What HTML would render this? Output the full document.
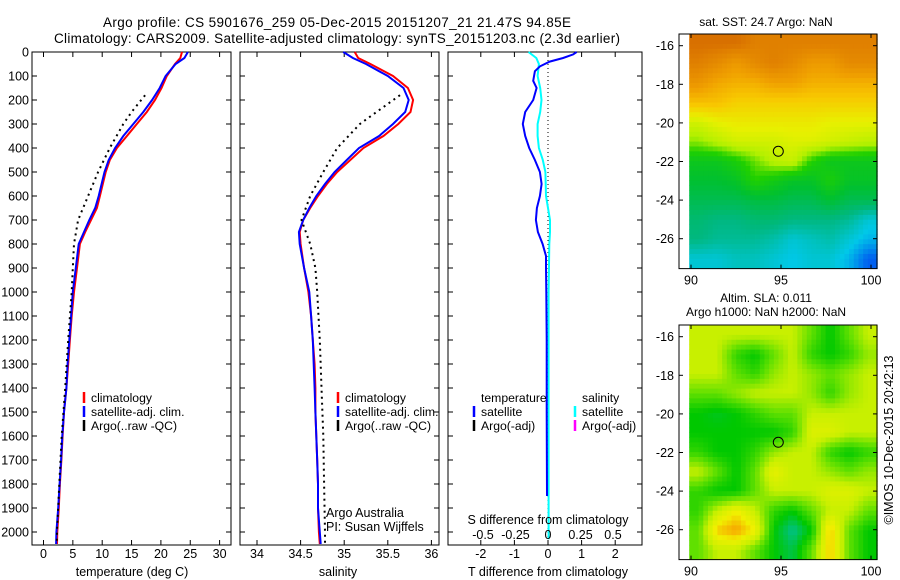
<!DOCTYPE html>
<html><head><meta charset="utf-8"><style>
html,body{margin:0;padding:0;background:#fff;}
svg{display:block;font-family:"Liberation Sans",sans-serif;}
</style></head><body>
<svg id="fig" width="900" height="580" viewBox="0 0 900 580" xmlns="http://www.w3.org/2000/svg">
<rect width="900" height="580" fill="#fff"/>
<text x="337" y="27" font-size="13.5" text-anchor="middle" textLength="468">Argo profile: CS 5901676_259 05-Dec-2015 20151207_21 21.47S 94.85E</text>
<text x="337" y="43" font-size="13.5" text-anchor="middle" textLength="566">Climatology: CARS2009. Satellite-adjusted climatology: synTS_20151203.nc (2.3d earlier)</text>
<g id="plots"></g>
</svg>
<script>
// ---------- data ----------
const tDepth = [0,25,50,100,150,200,250,300,350,400,450,500,550,600,650,700,750,800,900,1000,1100,1200,1300,1400,1500,1600,1700,1800,1900,2000,2050];
const tClim  = [23.6,23.3,22.4,21.0,20.1,19.0,17.6,15.9,14.2,12.5,11.3,10.6,10.1,9.6,9.1,8.1,7.1,6.2,5.7,5.2,4.8,4.5,4.2,3.9,3.5,3.25,3.05,2.8,2.6,2.35,2.3];
const tSat   = [24.6,24.0,22.5,20.8,19.8,18.5,17.0,15.3,13.6,12.2,11.1,10.4,9.9,9.4,8.8,7.8,6.9,6.0,5.5,5.0,4.7,4.4,4.1,3.9,3.5,3.2,3.0,2.75,2.5,2.2,2.15];
const argoDepth = [180,250,300,400,500,600,700,800,900,1000,1200,1400,1600,1800,2000,2050];
const tArgo  = [17.3,15.0,13.6,11.3,9.3,7.6,5.9,5.2,5.0,4.8,4.2,3.7,3.1,2.7,2.3,2.25];
const sClim  = [35.12,35.16,35.30,35.56,35.73,35.79,35.76,35.62,35.45,35.22,35.07,34.92,34.80,34.70,34.61,34.53,34.49,34.50,34.54,34.59,34.62,34.64,34.66,34.67,34.67,34.68,34.69,34.70,34.70,34.71,34.72];
const sSat   = [34.99,35.10,35.25,35.50,35.68,35.74,35.70,35.56,35.40,35.17,35.03,34.89,34.78,34.68,34.60,34.53,34.48,34.49,34.54,34.60,34.62,34.64,34.65,34.66,34.67,34.68,34.69,34.70,34.70,34.72,34.73];
const sArgo  = [35.64,35.37,35.18,34.92,34.76,34.61,34.51,34.61,34.67,34.69,34.72,34.74,34.76,34.77,34.78,34.78];
const dDepth = [0,10,25,40,60,80,120,150,200,250,300,350,400,450,500,550,600,650,700,750,800,850,900,1000,1200,1500,1850];
const dTSat  = [0.85,0.75,0.45,0.05,-0.24,-0.39,-0.44,-0.34,-0.44,-0.68,-0.75,-0.68,-0.56,-0.39,-0.24,-0.19,-0.24,-0.33,-0.36,-0.30,-0.16,-0.06,-0.06,-0.05,-0.04,-0.04,-0.03];
const sdDepth = [0,25,50,100,150,200,250,300,350,400,450,500,600,700,750,800,1000,1500,2030];
const dSSat  = [-0.15,-0.09,-0.07,-0.08,-0.06,-0.05,-0.06,-0.08,-0.08,-0.07,-0.04,-0.02,-0.015,0.015,0.015,0.01,0.005,0.005,0.005];
const depthTicks = [0,100,200,300,400,500,600,700,800,900,1000,1100,1200,1300,1400,1500,1600,1700,1800,1900,2000];
const tTicks = [0,5,10,15,20,25,30];
const sTicks = [34,34.5,35,35.5,36];
const sTickLabels = ["34","34.5","35","35.5","36"];
const dTTicks = [-2,-1,0,1,2];
const dSTicks = [-0.5,-0.25,0,0.25,0.5];
const dSTickLabels = ["-0.5","-0.25","0","0.25","0.5"];
// SST map grid (deg C), rows north->south, cols west->east
const sstGrid = [
[27.0,27.0,27.0,26.8,26.8,26.8,26.8,26.8,26.8,26.8],
[26.8,26.6,26.3,26.6,26.8,26.6,26.3,26.3,26.6,26.6],
[26.4,26.1,26.0,26.0,26.2,26.2,26.0,26.0,26.0,26.0],
[25.8,25.8,25.6,25.6,25.6,25.6,25.6,25.6,25.6,25.6],
[25.0,25.2,25.3,25.3,25.3,25.3,25.3,25.2,25.2,25.2],
[24.6,24.8,25.0,25.0,25.0,25.1,25.1,25.0,24.9,24.8],
[24.0,24.0,24.2,24.5,24.8,24.9,24.3,24.0,24.0,24.0],
[23.8,23.8,23.9,24.3,24.1,23.9,23.9,24.2,23.9,23.9],
[23.6,23.6,23.6,23.7,23.7,23.6,23.6,23.8,23.6,23.6],
[23.4,23.3,23.3,23.4,23.4,23.3,23.3,23.3,23.2,22.9],
[23.3,23.2,23.2,23.2,23.1,22.9,23.0,23.1,22.9,22.7],
[22.9,22.9,23.0,23.0,22.9,22.8,22.9,22.9,22.7,22.3]];
// SLA map grid (relative colour level)
const slaGrid = [
[3,3,3,3,3,3,2,1,2,3],
[3,3,1.5,1,2,3,1.5,1,1.5,2.5],
[3,3,2,1.5,2.5,3,2.5,2,2.5,3],
[2,2,2.5,3,3,3,2.5,1.5,2.5,3],
[1,0.8,1,1.5,2,2,3,3,3,3],
[1,1,1,1,1,1.5,3.5,3.5,3,3],
[1.5,1,1,1.5,2.5,3,3,1.5,1,1.5],
[3,2,1,2,3.8,3,3,2.5,2,2.5],
[1.5,1,1,2,3,3,3,3.5,3.5,3],
[1.5,3,4,3,1.5,1,2,3,3,2],
[2,4.5,5,4,1,0,1,4.5,2,1],
[2,3,3,2,1,0.5,2,4.5,2,1]];
const mapLonTicks = [90,95,100];
const mapLatTicks = [-16,-18,-20,-22,-24,-26];
const argoLon = 94.85, argoLat = -21.47;

// ---------- helpers ----------
const NS="http://www.w3.org/2000/svg";
const root=document.getElementById('plots');
function el(tag,attrs,parent){const e=document.createElementNS(NS,tag);for(const k in attrs)e.setAttribute(k,attrs[k]);(parent||root).appendChild(e);return e;}
function txt(x,y,s,size,anchor,parent){const t=el('text',{x:x,y:y,'font-size':size,'text-anchor':anchor||'start'},parent);t.textContent=s;return t;}
const TOP=52,BOT=545;
const depthY=d=>TOP+d*0.24;
const tX=v=>43.5+v*5.87;
const sX=v=>257+(v-34)*87.2;
const dTX=v=>548+v*33.6;
const dSX=v=>548+v*130;

function line(xs,ds,fx,color,dash,name){
  const pts=xs.map((v,i)=>fx(v).toFixed(1)+','+depthY(ds[i]).toFixed(1)).join(' ');
  const p=el('polyline',{points:pts,fill:'none',stroke:color,'stroke-width':2,'stroke-dasharray':dash||'none'});
  
  
}
function frame(x0,x1,name){
  const r=el('rect',{x:x0,y:TOP,width:x1-x0,height:BOT-TOP,fill:'none',stroke:'#000','stroke-width':1});
  
  
  depthTicks.forEach(d=>{const y=depthY(d);el('line',{x1:x0,x2:x0+5,y1:y,y2:y,stroke:'#000'});el('line',{x1:x1-5,x2:x1,y1:y,y2:y,stroke:'#000'});});
}
function xticks(ticks,labels,fx,y,name){
  const g=el('g',{});
  
  
  ticks.forEach((t,i)=>{const x=fx(t);el('line',{x1:x,x2:x,y1:TOP,y2:TOP+5,stroke:'#000'},g);el('line',{x1:x,x2:x,y1:BOT-5,y2:BOT,stroke:'#000'},g);if(y)txt(x,y,labels[i],12.5,'middle',g);});
}
function legend(x,y,items,name){
  const g=el('g',{});
  
  
  items.forEach((it,i)=>{const yy=y+i*14;if(it[0])el('line',{x1:x,x2:x,y1:yy-10,y2:yy+1,stroke:it[0],'stroke-width':2.5},g);txt(x+7,yy,it[1],12.2,'start',g);});
}

// y labels
const yl=el('g',{});


depthTicks.forEach(d=>txt(29,depthY(d)+4.5,String(d),12.5,'end',yl));

// panel 1 temperature
frame(32,231,'temperature-panel');
xticks(tTicks,tTicks.map(String),tX,558,'temperature-x-ticks');
line(tClim,tDepth,tX,'#ff0000',null,'temperature-climatology-line');
line(tSat,tDepth,tX,'#0000ff',null,'temperature-satellite-line');
line(tArgo,argoDepth,tX,'#000',"2,4",'temperature-argo-line');
const t1=txt(132,576,'temperature (deg C)',12.5,'middle');


legend(84,402,[['#ff0000','climatology'],['#0000ff','satellite-adj. clim.'],['#000','Argo(..raw -QC)']],'temperature-legend');

// panel 2 salinity
frame(240,439,'salinity-panel');
xticks(sTicks,sTickLabels,sX,558,'salinity-x-ticks');
line(sClim,tDepth,sX,'#ff0000',null,'salinity-climatology-line');
line(sSat,tDepth,sX,'#0000ff',null,'salinity-satellite-line');
line(sArgo,argoDepth,sX,'#000',"2,4",'salinity-argo-line');
const t2=txt(338,576,'salinity',12.5,'middle');


legend(338,402,[['#ff0000','climatology'],['#0000ff','satellite-adj. clim.'],['#000','Argo(..raw -QC)']],'salinity-legend');
const cr=el('g',{});


txt(326,517,'Argo Australia',12.5,'start',cr);txt(326,531,'PI: Susan Wijffels',12.5,'start',cr);

// panel 3 differences
frame(448,642,'difference-panel');
xticks(dTTicks,dTTicks.map(String),dTX,558,'t-difference-x-ticks');
const zl=el('line',{x1:548,x2:548,y1:TOP,y2:BOT,stroke:'#000','stroke-dasharray':'1,3'});


line(dSSat,sdDepth,dSX,'#00ffff',null,'salinity-difference-line');
line(dTSat,dDepth,dTX,'#0000ff',null,'temperature-difference-line');
const sl=el('g',{});


txt(548,524,'S difference from climatology',12.5,'middle',sl);
dSTicks.forEach((t,i)=>txt(dSX(t),539,dSTickLabels[i],12.5,'middle',sl));
const t3=txt(548,576,'T difference from climatology',12.5,'middle');


legend(474,402,[[null,'temperature'],['#0000ff','satellite'],['#000','Argo(-adj)']],'t-difference-legend');
legend(575,402,[[null,'salinity'],['#00ffff','satellite'],['#ff00ff','Argo(-adj)']],'s-difference-legend');

// ---------- maps ----------
function lerpCol(stops,v){
  if(v<=stops[0][0])return stops[0][1];
  for(let i=1;i<stops.length;i++){if(v<=stops[i][0]){const a=stops[i-1],b=stops[i],f=(v-a[0])/(b[0]-a[0]);return 'rgb('+[0,1,2].map(k=>Math.round(a[1][k]+(b[1][k]-a[1][k])*f)).join(',')+')';}}
  return 'rgb('+stops[stops.length-1][1].join(',')+')';
}
function fix(c){return Array.isArray(c)?'rgb('+c.join(',')+')':c;}
const sstStops=[[22.3,[0,96,240]],[22.8,[0,200,232]],[23.3,[0,184,128]],[23.8,[0,192,48]],[24.3,[32,208,0]],[24.7,[176,240,0]],[25.2,[232,240,0]],[25.7,[248,200,0]],[26.2,[240,160,0]],[26.8,[224,128,0]],[27.2,[208,96,0]]];
const slaStops=[[0,[0,192,144]],[1,[0,200,0]],[2,[96,224,0]],[3,[200,240,0]],[4,[240,240,0]],[5,[248,160,0]]];
function drawMap(grid,stops,top,name,title1,title2){
  const g=el('g',{});
  
  
  const lonX=l=>691+(l-90)*18, latY=la=>top+11.7+(-16-la)*19.3;
  const lon0=89.9,lon1=100.35,lat0=-15.4,lat1=-27.55;
  const R=grid.length,C=grid[0].length,sub=4;
  const dlon=(lon1-lon0)/C,dlat=(lat0-lat1)/R;
  const val=(r,c)=>grid[Math.max(0,Math.min(R-1,r))][Math.max(0,Math.min(C-1,c))];
  for(let i=0;i<R*sub;i++)for(let j=0;j<C*sub;j++){
    const fr=(i+0.5)/sub-0.5,fc=(j+0.5)/sub-0.5;
    const r0=Math.floor(fr),c0=Math.floor(fc),ar=fr-r0,ac=fc-c0;
    const v=(1-ar)*((1-ac)*val(r0,c0)+ac*val(r0,c0+1))+ar*((1-ac)*val(r0+1,c0)+ac*val(r0+1,c0+1));
    const x=lonX(lon0+j*dlon/sub),x2=lonX(lon0+(j+1)*dlon/sub),y=latY(lat0-i*dlat/sub),y2=latY(lat0-(i+1)*dlat/sub);
    el('rect',{x:x.toFixed(2),y:y.toFixed(2),width:(x2-x+0.4).toFixed(2),height:(y2-y+0.4).toFixed(2),fill:fix(lerpCol(stops,v))},g);
  }
  const bx0=679,bx1=877,by0=top,by1=latY(lat1);
  el('rect',{x:bx0,y:by0,width:bx1-bx0,height:by1-by0,fill:'none',stroke:'#000'},g);
  mapLonTicks.forEach(l=>{const x=lonX(l);el('line',{x1:x,x2:x,y1:by0,y2:by0+4,stroke:'#000'},g);el('line',{x1:x,x2:x,y1:by1-4,y2:by1,stroke:'#000'},g);txt(x,by1+16,String(l),12.5,'middle',g);});
  mapLatTicks.forEach(la=>{const y=latY(la);el('line',{x1:bx0,x2:bx0+4,y1:y,y2:y,stroke:'#000'},g);el('line',{x1:bx1-4,x2:bx1,y1:y,y2:y,stroke:'#000'},g);txt(674,y+4.5,String(la),12.5,'end',g);});
  const c=el('circle',{cx:lonX(argoLon),cy:latY(argoLat),r:5,fill:'none',stroke:'#000','stroke-width':1},g);
  
  
  if(title2){txt(766,top-23,title1,12,'middle',g);txt(766,top-9,title2,12,'middle',g);}
  else txt(766,top-8,title1,12,'middle',g);
}
drawMap(sstGrid,sstStops,34,'sst-map','sat. SST: 24.7 Argo: NaN');
drawMap(slaGrid,slaStops,325,'sla-map','Altim. SLA: 0.011','Argo h1000: NaN h2000: NaN');
const stamp=txt(0,0,'©IMOS 10-Dec-2015 20:42:13',12.5,'middle');
stamp.setAttribute('transform','translate(893,440) rotate(-90)');


</script>
</body></html>
